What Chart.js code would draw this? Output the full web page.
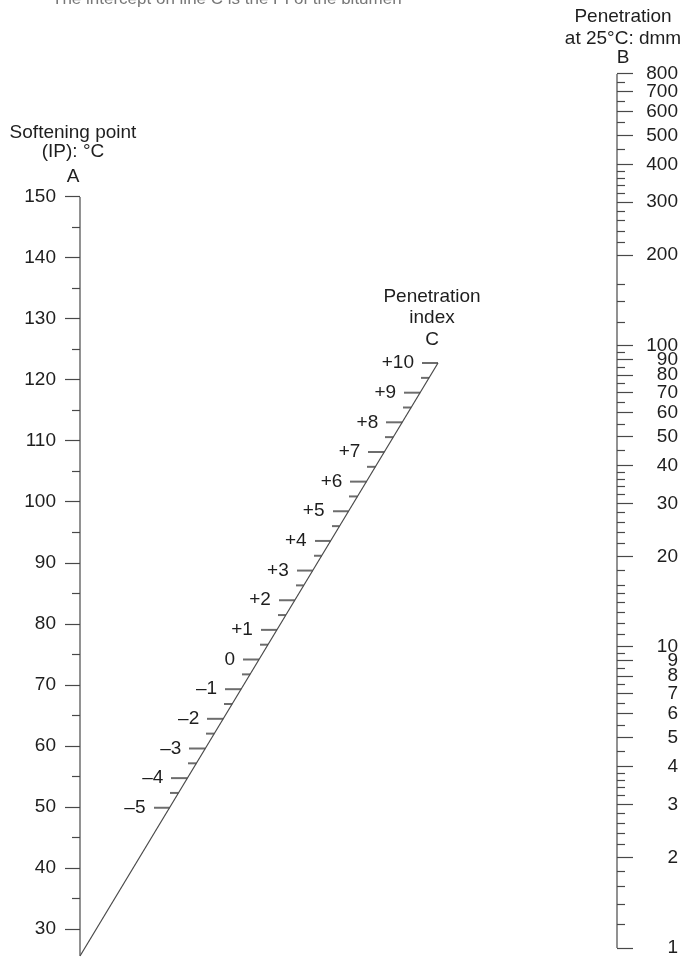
<!DOCTYPE html>
<html lang="en">
<head>
<meta charset="UTF-8" />
<meta name="viewport" content="width=device-width, initial-scale=1.0" />
<title>Penetration index nomograph</title>
<script src="https://cdn.jsdelivr.net/npm/chart.js"></script>
<style>
  html, body { margin: 0; padding: 0; background: #ffffff; overflow: hidden; }
  canvas { display: block; }
</style>
</head>
<body>
<canvas id="nomograph" width="689" height="957"></canvas>
<script>
// Scale A: softening point (IP), °C
const aMajor = [30, 40, 50, 60, 70, 80, 90, 100, 110, 120, 130, 140, 150];
const aMinor = [35, 45, 55, 65, 75, 85, 95, 105, 115, 125, 135, 145];
const aLine = [25.6, 150];

// Scale B: penetration at 25°C, dmm (logarithmic)
const bMajor = [1, 2, 3, 4, 5, 6, 7, 8, 9, 10, 20, 30, 40, 50, 60, 70, 80, 90, 100,
  200, 300, 400, 500, 600, 700, 800];
const bMinor = [1.2, 1.4, 1.6, 1.8, 2.2, 2.4, 2.6, 2.8, 3.2, 3.4, 3.6, 3.8, 4.5,
  5.5, 6.5, 7.5, 8.5, 9.5, 11, 12, 13, 14, 15, 16, 18, 22, 24, 26, 28, 32, 34, 36, 38, 45,
  55, 65, 75, 85, 95, 120, 140, 160, 220, 240, 260, 280, 320, 340, 360, 380, 450,
  550, 650, 750];
const bLine = [1, 800];

// Scale C: penetration index
const cMajor = [-5, -4, -3, -2, -1, 0, 1, 2, 3, 4, 5, 6, 7, 8, 9, 10];
const cMinor = [-4.5, -3.5, -2.5, -1.5, -0.5, 0.5, 1.5, 2.5, 3.5, 4.5, 5.5, 6.5,
  7.5, 8.5, 9.5];
const cLine = [-10, 10];

const topLine = 'The intercept on line C is the PI of the bitumen';
const titleA = ['Softening point', '(IP): °C', 'A'];
const titleB = ['Penetration', 'at 25°C: dmm', 'B'];
const titleC = ['Penetration', 'index', 'C'];

// layout, px
const W = 689, H = 957;
const PAD_TOP = 60, PAD_BOTTOM = 30, PAD_RIGHT = 11;
const AREA_TOP = PAD_TOP, AREA_BOTTOM = H - PAD_BOTTOM;
const A_X = 80, B_X = 617;

const FONT = '"Liberation Sans", Arial, Helvetica, sans-serif';
const SIZE = 19;
const INK = '#1e1e1e';
const RULE = '#484848';

// min/max of a scale so that v1 lands on pixel p1 and v2 on pixel p2
function span(v1, p1, v2, p2, lo, hi, log) {
  const f = log ? Math.log10 : (v) => v;
  const k = (f(v2) - f(v1)) / (p2 - p1);
  const a = f(v1) + (lo - p1) * k;
  const b = f(v1) + (hi - p1) * k;
  const min = Math.min(a, b), max = Math.max(a, b);
  return log ? { min: 10 ** min, max: 10 ** max } : { min, max };
}

const rangeA = span(150, 197, 30, 929, AREA_TOP, AREA_BOTTOM);
const rangeB = span(800, 74, 1, 948, AREA_TOP, AREA_BOTTOM, true);
const rangeCy = span(10, 363, -10, 956, AREA_TOP, AREA_BOTTOM);
const rangeCx = span(-10, A_X, 10, 438, A_X, B_X);

const pts = (vals, xv) => vals.map((v) => ({ x: xv === undefined ? v : xv, y: v }));
const piText = (v) => (v > 0 ? '+' + v : v < 0 ? '\u2013' + (-v) : '0');

// little tick mark that sticks out to the left of its point
function tickMark(len) {
  const c = document.createElement('canvas');
  c.width = len * 2;
  c.height = 4;
  const g = c.getContext('2d');
  g.strokeStyle = '#2e2e2e';
  g.lineWidth = 1.4;
  g.beginPath();
  g.moveTo(0, 2);
  g.lineTo(len, 2);
  g.stroke();
  return c;
}

const rule = (data, xID, yID) => ({
  data, xAxisID: xID, yAxisID: yID, showLine: true, borderColor: RULE,
  borderWidth: 1.2, pointRadius: 0, clip: false, fill: false,
});

function sideAxis(type, position, weight, range, list, len, labels, width) {
  return {
    type, position, weight, min: range.min, max: range.max,
    border: { display: false },
    grid: { drawOnChartArea: false, tickLength: len, tickColor: RULE, tickWidth: 1.2 },
    ticks: {
      display: labels, autoSkip: false, color: INK, font: { family: FONT, size: SIZE },
      padding: position === 'left' ? 9 : 13, crossAlign: position === 'left' ? 'near' : 'far',
      callback: (v) => String(v),
    },
    afterBuildTicks: (s) => { s.ticks = list.map((v) => ({ value: v })); },
    afterFit: (s) => { s.width = width; },
  };
}

const piLabels = {
  id: 'piLabels',
  afterDatasetsDraw(chart) {
    const meta = chart.getDatasetMeta(3);
    const ctx = chart.ctx;
    ctx.save();
    ctx.font = SIZE + 'px ' + FONT;
    ctx.fillStyle = INK;
    ctx.textAlign = 'right';
    ctx.textBaseline = 'middle';
    meta.data.forEach((p, i) => ctx.fillText(piText(cMajor[i]), p.x - 24, p.y));
    ctx.restore();
  },
};

const titles = {
  id: 'titles',
  afterDraw(chart) {
    const { ctx, scales } = chart;
    const block = (lines, x, y0, gaps) => {
      lines.forEach((t, i) => ctx.fillText(t, x, y0 - gaps[i]));
    };
    ctx.save();
    ctx.font = SIZE + 'px ' + FONT;
    ctx.fillStyle = INK;
    ctx.textAlign = 'center';
    ctx.textBaseline = 'middle';
    const aTop = scales.yA.getPixelForValue(aLine[1]);
    block(titleA, A_X - 7, aTop, [64, 45, 20]);
    const bTop = scales.yB.getPixelForValue(bLine[1]);
    block(titleB, B_X + 6, bTop, [57, 35, 16]);
    const cx = scales.xC.getPixelForValue(cLine[1]);
    const cy = scales.yC.getPixelForValue(cLine[1]);
    block(titleC, cx - 6, cy, [66, 45, 23]);
    // sentence cut off by the top edge of the figure
    ctx.font = '17px ' + FONT;
    ctx.fillStyle = '#777777';
    ctx.textAlign = 'left';
    ctx.textBaseline = 'alphabetic';
    ctx.fillText(topLine, 52, 4);
    ctx.restore();
  },
};

new Chart(document.getElementById('nomograph'), {
  type: 'scatter',
  data: {
    datasets: [
      rule(pts(aLine, 0), 'x', 'yA'),
      rule(pts(bLine, 1), 'x', 'yB'),
      rule(pts(cLine), 'xC', 'yC'),
      { data: pts(cMajor), xAxisID: 'xC', yAxisID: 'yC', pointStyle: tickMark(16), pointRadius: 1, clip: false },
      { data: pts(cMinor), xAxisID: 'xC', yAxisID: 'yC', pointStyle: tickMark(8), pointRadius: 1, clip: false },
    ],
  },
  options: {
    responsive: false,
    animation: false,
    devicePixelRatio: 1,
    events: [],
    layout: { padding: { top: PAD_TOP, bottom: PAD_BOTTOM, left: 0, right: PAD_RIGHT } },
    plugins: { legend: { display: false }, tooltip: { enabled: false } },
    scales: {
      x: { type: 'linear', min: 0, max: 1, display: false },
      xC: { type: 'linear', axis: 'x', min: rangeCx.min, max: rangeCx.max, display: false },
      yC: { type: 'linear', axis: 'y', min: rangeCy.min, max: rangeCy.max, display: false },
      yA: sideAxis('linear', 'left', 1, rangeA, aMajor, 15, true, A_X),
      yAm: sideAxis('linear', 'left', 0, rangeA, aMinor, 8, false, 0),
      yB: sideAxis('logarithmic', 'right', 1, rangeB, bMajor, 16, true, W - PAD_RIGHT - B_X),
      yBm: sideAxis('logarithmic', 'right', 0, rangeB, bMinor, 8, false, 0),
    },
  },
  plugins: [piLabels, titles],
});
</script>
</body>
</html>
